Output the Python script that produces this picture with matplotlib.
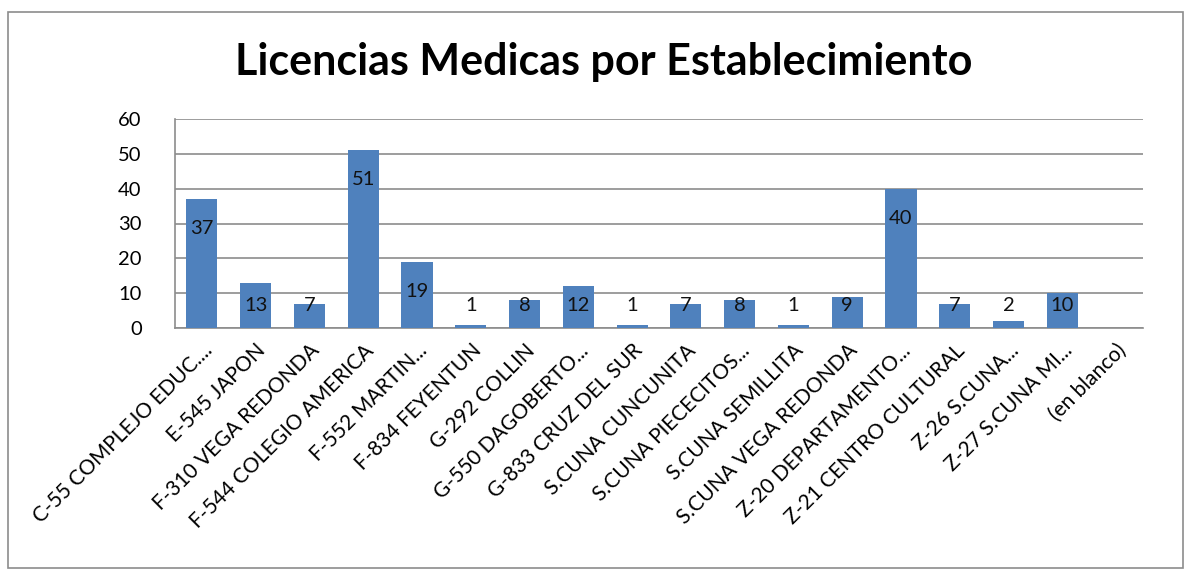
import numpy as np
import matplotlib
matplotlib.use("Agg")
import matplotlib.pyplot as plt
from matplotlib.patches import Rectangle

plt.rcParams['font.family'] = ['Lato', 'DejaVu Sans']

establecimientos = ["C-55 COMPLEJO EDUC....", "E-545 JAPON", "F-310 VEGA REDONDA",
                    "F-544 COLEGIO AMERICA", "F-552 MARTIN...", "F-834 FEYENTUN",
                    "G-292 COLLIN", "G-550 DAGOBERTO...", "G-833 CRUZ DEL SUR",
                    "S.CUNA CUNCUNITA", "S.CUNA PIECECITOS...", "S.CUNA SEMILLITA",
                    "S.CUNA VEGA REDONDA", "Z-20 DEPARTAMENTO...", "Z-21 CENTRO CULTURAL",
                    "Z-26 S.CUNA...", "Z-27 S.CUNA MI...", "(en blanco)"]
licencias = [37, 13, 7, 51, 19, 1, 8, 12, 1, 7, 8, 1, 9, 40, 7, 2, 10, None]

fig = plt.figure(figsize=(11.9, 5.74), dpi=100)
fig.patches.append(Rectangle((8/1190, 1-568/574), 1175/1190, 556/574, transform=fig.transFigure,
                             fill=False, edgecolor='#8c8c8c', linewidth=1.2))

ax = fig.add_axes([175/1190, 1-328/574, 968/1190, 209/574])
x = np.arange(len(establecimientos))
vals = np.array([np.nan if v is None else v for v in licencias], dtype=float)
ax.bar(x, np.nan_to_num(vals), width=0.58, color='#4F81BD', zorder=3)

# etiquetas de datos (dentro del extremo, con minimo para barras chicas)
for xi, v in zip(x, licencias):
    if v is None:
        continue
    ax.text(xi, max(v - 8.5, 6.6), str(v), ha='center', va='center', fontsize=14.5,
            color='#111111', zorder=4)

ax.set_xlim(-0.5, len(establecimientos) - 0.5)
ax.set_ylim(0, 60)
ax.set_yticks(range(0, 61, 10))
ax.yaxis.grid(True, color='#8c8c8c', linewidth=1.2, zorder=0)
ax.set_xticks(x)
ax.set_xticklabels(establecimientos, rotation=45, ha='right', rotation_mode='anchor', fontsize=15)
ax.tick_params(axis='y', labelsize=14.5, length=0, pad=24)
ax.tick_params(axis='x', length=0, pad=9)
for s in ['top', 'right']:
    ax.spines[s].set_visible(False)
ax.spines['left'].set_color('#8c8c8c')
ax.spines['bottom'].set_color('#8c8c8c')
ax.spines['left'].set_linewidth(1.2)
ax.spines['bottom'].set_linewidth(1.2)

fig.text(604/1190, 1-62/574, "Licencias Medicas por Establecimiento", ha='center', va='center',
         fontsize=31, fontweight='bold')

fig.savefig("out.png", dpi=100)
